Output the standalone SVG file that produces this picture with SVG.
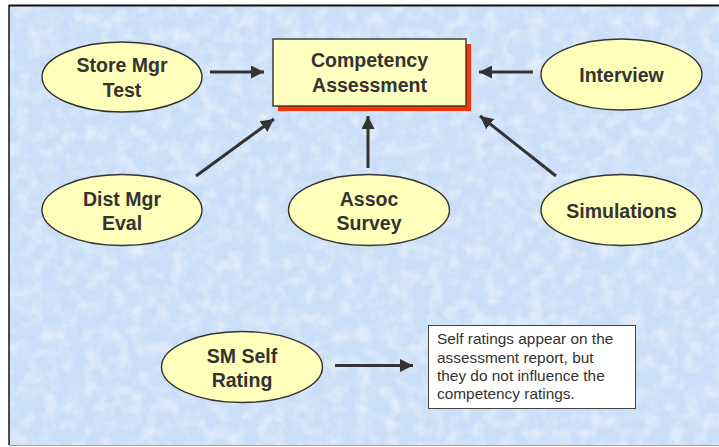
<svg xmlns="http://www.w3.org/2000/svg" width="719" height="447" viewBox="0 0 719 447">
  <defs>
    <style>
      .node ellipse { fill: #ffffbb; stroke: #333333; stroke-width: 1.4; }
      .label { font-family: "Liberation Sans", Arial, sans-serif; font-weight: bold; font-size: 19.5px; fill: #333333; text-anchor: middle; }
      .note { font-family: "Liberation Sans", Arial, sans-serif; font-size: 15.4px; fill: #333333; }
      .conn line { stroke: #333333; stroke-width: 3; marker-end: url(#arrow); }
    </style>
    <marker id="arrow" markerUnits="userSpaceOnUse" markerWidth="13" markerHeight="13" viewBox="0 0 13 13" refX="13" refY="6.5" orient="auto">
      <path d="M0,0 L13,6.5 L0,13 z" fill="#333333"/>
    </marker>
    <!-- soft marbled texture for the backdrop -->
    <filter id="marble" x="0" y="0" width="100%" height="100%">
      <feTurbulence type="fractalNoise" baseFrequency="0.07" numOctaves="3" seed="7" result="noise"/>
      <feColorMatrix in="noise" type="matrix" values="0 0 0 0 1  0 0 0 0 1  0 0 0 0 1  0 0 0 0.9 -0.36" result="veins"/>
      <feComposite in="veins" in2="SourceGraphic" operator="in" result="clip"/>
      <feMerge>
        <feMergeNode in="SourceGraphic"/>
        <feMergeNode in="clip"/>
      </feMerge>
    </filter>
  </defs>

  <rect width="719" height="447" fill="#ffffff"/>

  <!-- backdrop panel -->
  <g id="backdrop">
    <rect x="9" y="6" width="712" height="439" fill="#cadff7" filter="url(#marble)"/>
    <line x1="9" y1="5.5" x2="719" y2="5.5" stroke="#111111" stroke-width="2"/>
    <line x1="9" y1="5" x2="9" y2="445" stroke="#222222" stroke-width="1.6"/>
    <line x1="9" y1="445.5" x2="719" y2="445.5" stroke="#9aa4b4" stroke-width="1"/>
  </g>

  <!-- connectors -->
  <g id="connectors" class="conn">
    <line x1="210" y1="72" x2="264" y2="72"/>
    <line x1="533" y1="72" x2="479" y2="72"/>
    <line x1="196" y1="176" x2="274" y2="119"/>
    <line x1="368" y1="168" x2="368" y2="116"/>
    <line x1="556" y1="176" x2="480" y2="116"/>
    <line x1="335" y1="365.5" x2="413" y2="365.5"/>
  </g>

  <g id="competency-assessment">
    <rect x="278" y="44" width="193" height="67" fill="#ff3300"/>
    <rect x="273" y="39" width="193" height="67" fill="#ffffc0" stroke="#333333" stroke-width="1.4"/>
    <text class="label" x="369.5" y="67">Competency</text>
    <text class="label" x="369.5" y="91.5">Assessment</text>
  </g>

  <g id="store-mgr-test" class="node">
    <ellipse cx="122" cy="77" rx="80" ry="35"/>
    <text class="label" x="122" y="72">Store Mgr</text>
    <text class="label" x="122" y="96.5">Test</text>
  </g>

  <g id="interview" class="node">
    <ellipse cx="621.5" cy="74.5" rx="80.5" ry="35.5"/>
    <text class="label" x="621.5" y="81.5">Interview</text>
  </g>

  <g id="dist-mgr-eval" class="node">
    <ellipse cx="122" cy="210" rx="80" ry="35.5"/>
    <text class="label" x="122" y="205.5">Dist Mgr</text>
    <text class="label" x="122" y="230">Eval</text>
  </g>

  <g id="assoc-survey" class="node">
    <ellipse cx="369" cy="210" rx="80.5" ry="35.5"/>
    <text class="label" x="369" y="205.5">Assoc</text>
    <text class="label" x="369" y="230">Survey</text>
  </g>

  <g id="simulations" class="node">
    <ellipse cx="621.5" cy="210" rx="80.5" ry="35.5"/>
    <text class="label" x="621.5" y="217.5">Simulations</text>
  </g>

  <g id="sm-self-rating" class="node">
    <ellipse cx="242" cy="367" rx="80.5" ry="35.5"/>
    <text class="label" x="242" y="363">SM Self</text>
    <text class="label" x="242" y="387">Rating</text>
  </g>

  <g id="self-rating-note">
    <rect x="428.5" y="325.5" width="207" height="83" fill="#ffffff" stroke="#444444" stroke-width="1"/>
    <text class="note" x="437" y="344">Self ratings appear on the</text>
    <text class="note" x="437" y="362.5">assessment report, but</text>
    <text class="note" x="437" y="380.5">they do not influence the</text>
    <text class="note" x="437" y="399">competency ratings.</text>
  </g>
</svg>
